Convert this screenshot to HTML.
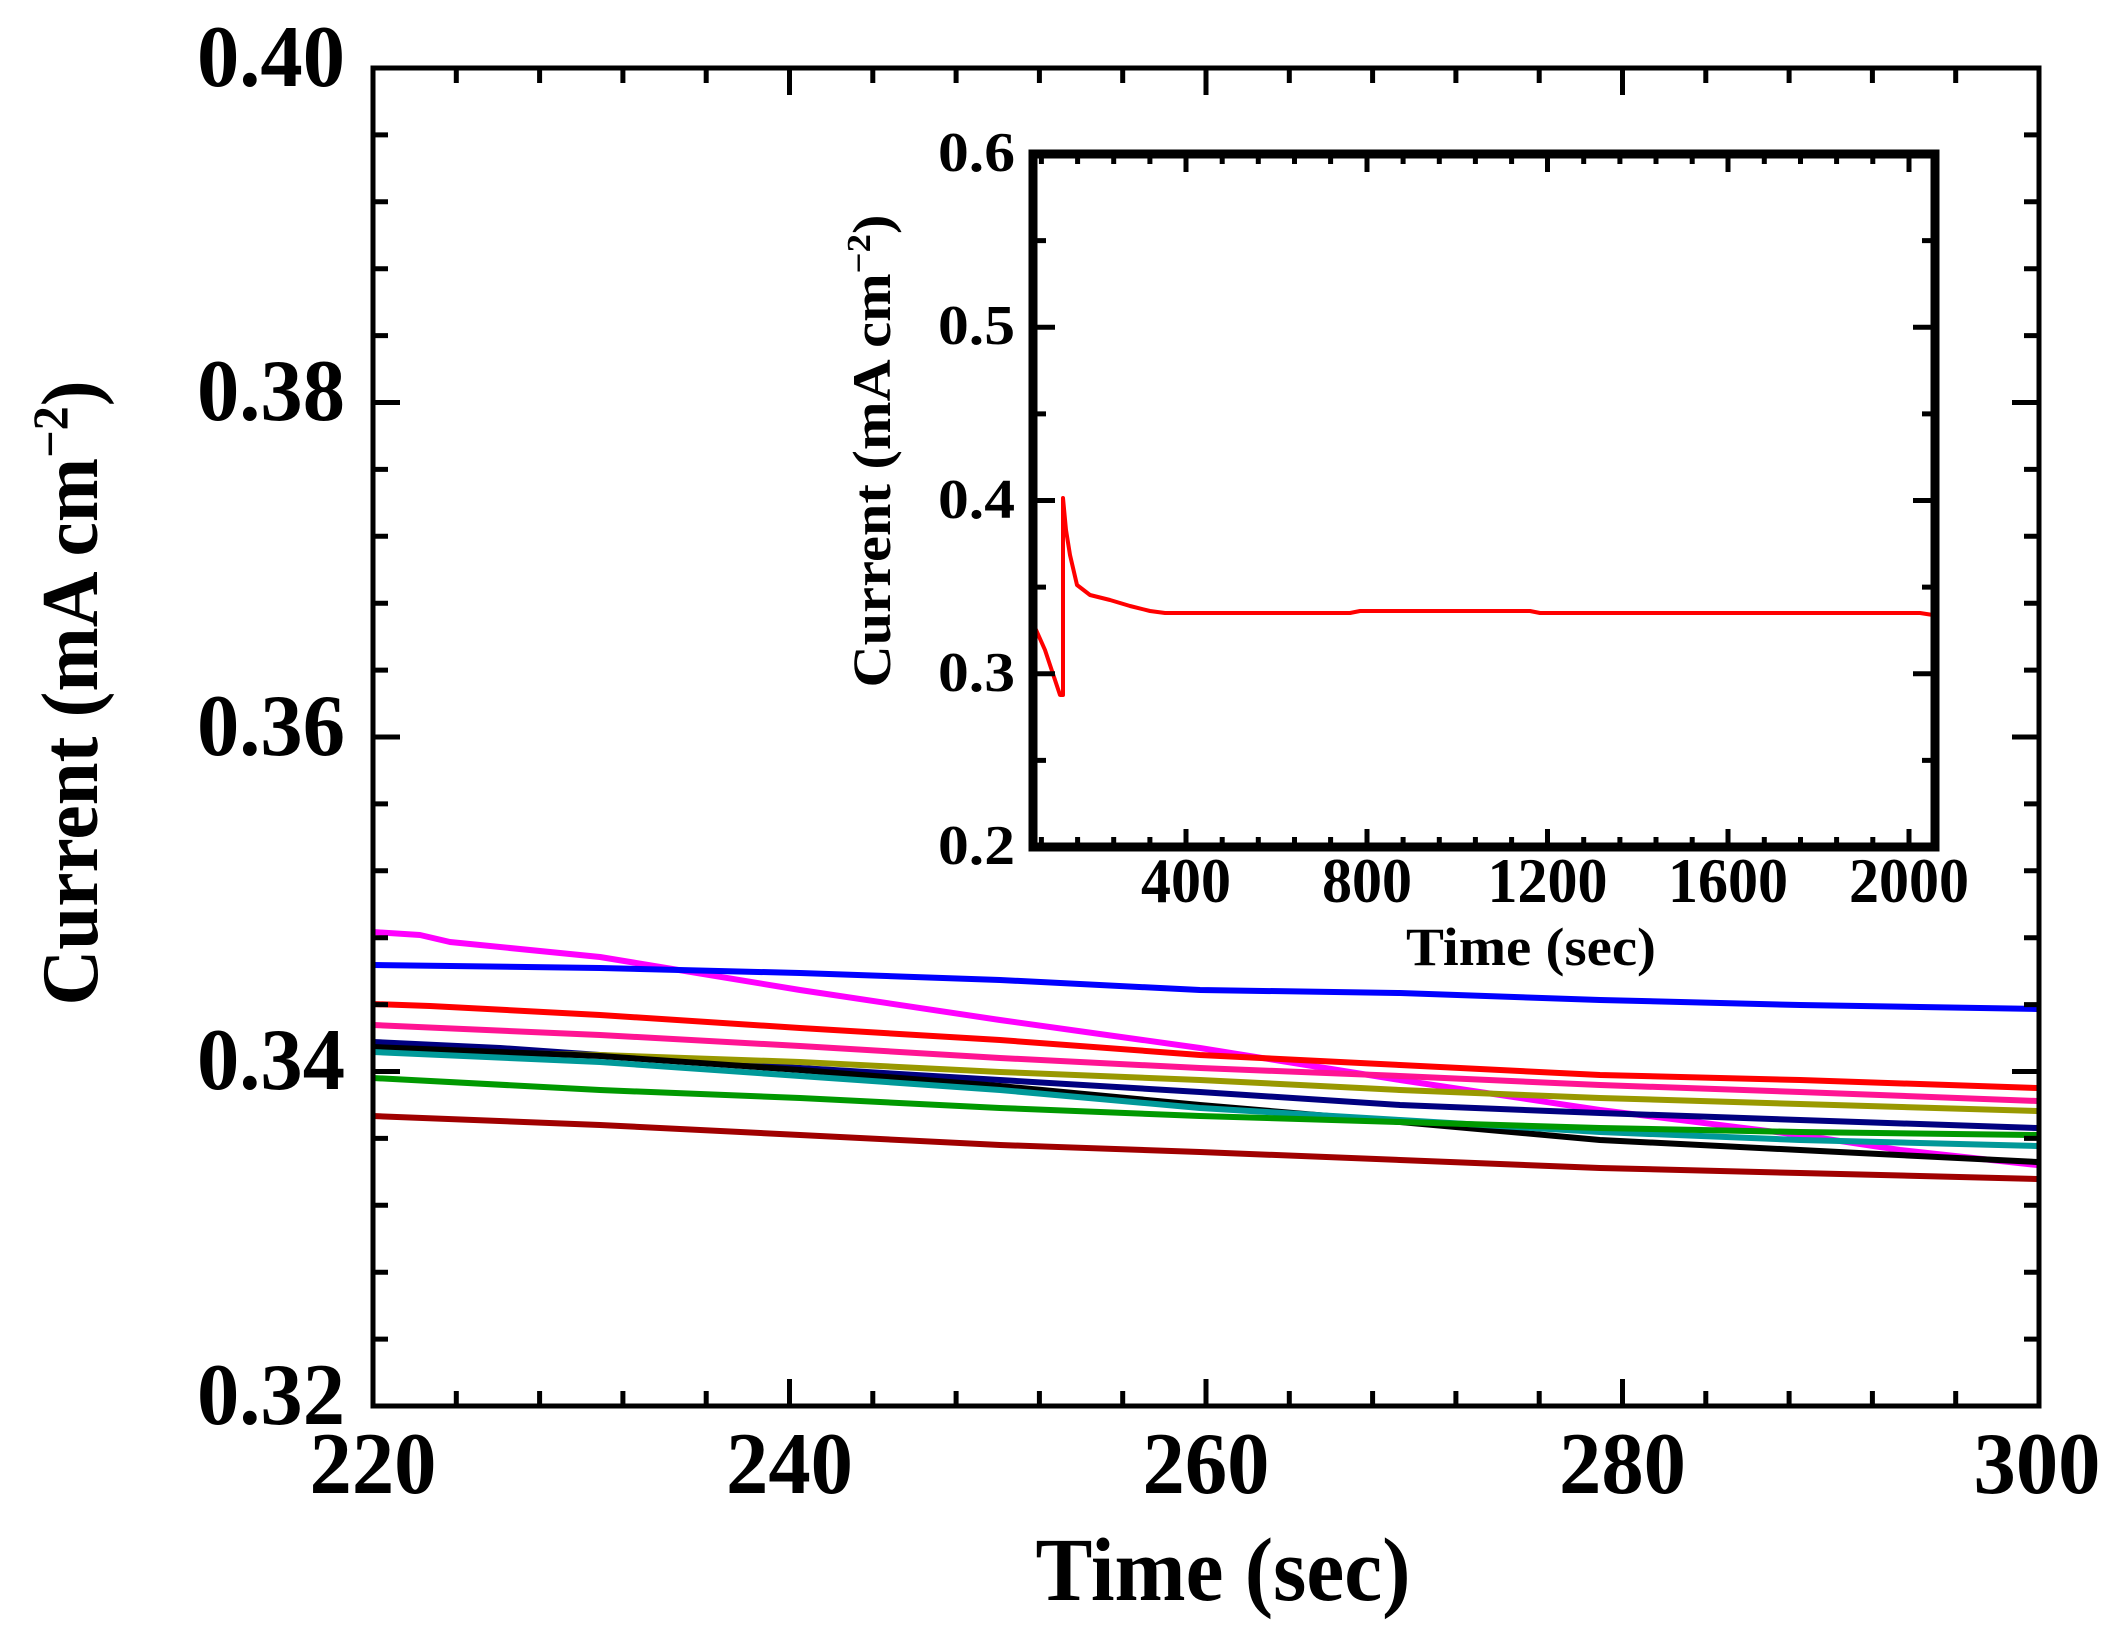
<!DOCTYPE html>
<html><head><meta charset="utf-8"><style>
html,body{margin:0;padding:0;background:#fff;}
svg{display:block;}
text{font-family:"Liberation Serif",serif;font-weight:bold;fill:#000;}
</style></head><body>
<svg width="2119" height="1644" viewBox="0 0 2119 1644" xmlns="http://www.w3.org/2000/svg">
<g stroke-width="6" fill="none" stroke-linejoin="round">
<polyline stroke="#ff00ff" points="373,932 420,935 450,942 600,957 800,990 1000,1020 1200,1048 1400,1080 1600,1110 1800,1135 1900,1150 2037,1165"/>
<polyline stroke="#0000ff" points="373,965 600,968 800,973 1000,980 1200,990 1400,993 1600,1000 1800,1005 2037,1009"/>
<polyline stroke="#ff0000" points="373,1004 430,1006 600,1015 800,1028 1000,1040 1200,1055 1400,1065 1600,1075 1800,1080 2037,1088"/>
<polyline stroke="#ff1493" points="373,1025 600,1035 800,1046 1000,1058 1200,1068 1400,1076 1600,1085 1800,1092 2037,1101"/>
<polyline stroke="#000080" points="373,1042 500,1048 600,1055 800,1068 1000,1080 1200,1092 1400,1105 1600,1113 1800,1120 2037,1128"/>
<polyline stroke="#999900" points="373,1050 600,1055 800,1062 1000,1072 1200,1080 1400,1090 1600,1098 1800,1104 2037,1111"/>
<polyline stroke="#000000" points="373,1047 600,1056 800,1070 1000,1086 1200,1105 1400,1122 1600,1140 1800,1150 2037,1162"/>
<polyline stroke="#009999" points="373,1052 600,1062 800,1076 1000,1090 1200,1108 1400,1120 1600,1132 1800,1140 2037,1146"/>
<polyline stroke="#009900" points="373,1078 600,1090 800,1098 1000,1108 1200,1116 1400,1122 1600,1128 1800,1132 2037,1135"/>
<polyline stroke="#a00000" points="373,1116 600,1125 800,1135 1000,1145 1200,1152 1400,1160 1600,1168 1800,1173 2037,1179"/>
</g>
<rect x="373" y="68" width="1666" height="1338" fill="none" stroke="#000" stroke-width="5"/>
<g stroke="#000" stroke-width="5">
<path d="M789.5,1406v-27M1206,1406v-27M1622.5,1406v-27M789.5,68v27M1206,68v27M1622.5,68v27"/>
<path d="M456.3,1406v-15M539.6,1406v-15M622.9,1406v-15M706.2,1406v-15M872.8,1406v-15M956.1,1406v-15M1039.4,1406v-15M1122.7,1406v-15M1289.3,1406v-15M1372.6,1406v-15M1455.9,1406v-15M1539.2,1406v-15M1705.8,1406v-15M1789.1,1406v-15M1872.4,1406v-15M1955.7,1406v-15"/>
<path d="M456.3,68v15M539.6,68v15M622.9,68v15M706.2,68v15M872.8,68v15M956.1,68v15M1039.4,68v15M1122.7,68v15M1289.3,68v15M1372.6,68v15M1455.9,68v15M1539.2,68v15M1705.8,68v15M1789.1,68v15M1872.4,68v15M1955.7,68v15"/>
<path d="M373,402.5h27M373,737h27M373,1071.5h27M2039,402.5h-27M2039,737h-27M2039,1071.5h-27"/>
<path d="M373,134.9h15M373,201.8h15M373,268.7h15M373,335.6h15M373,469.4h15M373,536.3h15M373,603.2h15M373,670.1h15M373,803.9h15M373,870.8h15M373,937.7h15M373,1004.6h15M373,1138.4h15M373,1205.3h15M373,1272.2h15M373,1339.1h15"/>
<path d="M2039,134.9h-15M2039,201.8h-15M2039,268.7h-15M2039,335.6h-15M2039,469.4h-15M2039,536.3h-15M2039,603.2h-15M2039,670.1h-15M2039,803.9h-15M2039,870.8h-15M2039,937.7h-15M2039,1004.6h-15M2039,1138.4h-15M2039,1205.3h-15M2039,1272.2h-15M2039,1339.1h-15"/>
</g>
<g font-size="88" text-anchor="end">
<text x="345" y="86" textLength="148" lengthAdjust="spacingAndGlyphs">0.40</text>
<text x="345" y="420" textLength="148" lengthAdjust="spacingAndGlyphs">0.38</text>
<text x="345" y="755" textLength="148" lengthAdjust="spacingAndGlyphs">0.36</text>
<text x="345" y="1089" textLength="148" lengthAdjust="spacingAndGlyphs">0.34</text>
<text x="345" y="1424" textLength="148" lengthAdjust="spacingAndGlyphs">0.32</text>
</g>
<g font-size="88" text-anchor="middle">
<text x="373" y="1493" textLength="127" lengthAdjust="spacingAndGlyphs">220</text>
<text x="789.5" y="1493" textLength="127" lengthAdjust="spacingAndGlyphs">240</text>
<text x="1206" y="1493" textLength="127" lengthAdjust="spacingAndGlyphs">260</text>
<text x="1622.5" y="1493" textLength="127" lengthAdjust="spacingAndGlyphs">280</text>
<text x="2037" y="1493" textLength="127" lengthAdjust="spacingAndGlyphs">300</text>
<text x="1223" y="1600" font-size="90" textLength="375" lengthAdjust="spacingAndGlyphs">Time (sec)</text>
</g>
<text transform="translate(97,693) rotate(-90)" font-size="80" text-anchor="middle" textLength="625" lengthAdjust="spacingAndGlyphs">Current (mA cm<tspan dy="-30" font-size="50">−2</tspan><tspan dy="30">)</tspan></text>

<rect x="1033" y="154" width="902" height="693" fill="#fff" stroke="none"/>
<polyline fill="none" stroke="#ff0000" stroke-width="4" stroke-linejoin="round" points="1032,603 1033,623 1045,650 1060,695 1063,695 1063,498 1066,530 1070,555 1077,585 1090,595 1110,600 1130,606 1150,611 1165,613 1350,613 1360,611 1530,611 1540,613 1920,613 1933,615"/>
<rect x="1033" y="154" width="902" height="693" fill="none" stroke="#000" stroke-width="9"/>
<g stroke="#000" stroke-width="5">
<path d="M1033,327.25h22M1033,500.5h22M1033,673.75h22M1935,327.25h-22M1935,500.5h-22M1935,673.75h-22"/>
<path d="M1033,240.6h13M1033,413.9h13M1033,587.1h13M1033,760.4h13M1935,240.6h-13M1935,413.9h-13M1935,587.1h-13M1935,760.4h-13"/>
<path d="M1186,847v-18M1367,847v-18M1547.5,847v-18M1728,847v-18M1909,847v-18M1186,154v18M1367,154v18M1547.5,154v18M1728,154v18M1909,154v18"/>
<path d="M1041.4,847v-10M1077.6,847v-10M1113.7,847v-10M1149.9,847v-10M1222.2,847v-10M1258.3,847v-10M1294.5,847v-10M1330.6,847v-10M1403.1,847v-10M1439.3,847v-10M1475.4,847v-10M1511.6,847v-10M1583.7,847v-10M1619.9,847v-10M1656,847v-10M1692.2,847v-10M1764.3,847v-10M1800.5,847v-10M1836.6,847v-10M1872.8,847v-10"/>
<path d="M1041.4,154v10M1077.6,154v10M1113.7,154v10M1149.9,154v10M1222.2,154v10M1258.3,154v10M1294.5,154v10M1330.6,154v10M1403.1,154v10M1439.3,154v10M1475.4,154v10M1511.6,154v10M1583.7,154v10M1619.9,154v10M1656,154v10M1692.2,154v10M1764.3,154v10M1800.5,154v10M1836.6,154v10M1872.8,154v10"/>
</g>
<g font-size="56" text-anchor="end">
<text x="1015" y="171" textLength="77" lengthAdjust="spacingAndGlyphs">0.6</text>
<text x="1015" y="344" textLength="77" lengthAdjust="spacingAndGlyphs">0.5</text>
<text x="1015" y="518" textLength="77" lengthAdjust="spacingAndGlyphs">0.4</text>
<text x="1015" y="691" textLength="77" lengthAdjust="spacingAndGlyphs">0.3</text>
<text x="1015" y="864" textLength="77" lengthAdjust="spacingAndGlyphs">0.2</text>
</g>
<g font-size="64" text-anchor="middle">
<text x="1186" y="902" textLength="90" lengthAdjust="spacingAndGlyphs">400</text>
<text x="1367" y="902" textLength="90" lengthAdjust="spacingAndGlyphs">800</text>
<text x="1547.5" y="902" textLength="120" lengthAdjust="spacingAndGlyphs">1200</text>
<text x="1728" y="902" textLength="120" lengthAdjust="spacingAndGlyphs">1600</text>
<text x="1909" y="902" textLength="120" lengthAdjust="spacingAndGlyphs">2000</text>
<text x="1531" y="965" font-size="54" textLength="250" lengthAdjust="spacingAndGlyphs">Time (sec)</text>
</g>
<text transform="translate(890,451) rotate(-90)" font-size="54" text-anchor="middle" textLength="473" lengthAdjust="spacingAndGlyphs">Current (mA cm<tspan dy="-20" font-size="34">−2</tspan><tspan dy="20">)</tspan></text>
</svg>
</body></html>
